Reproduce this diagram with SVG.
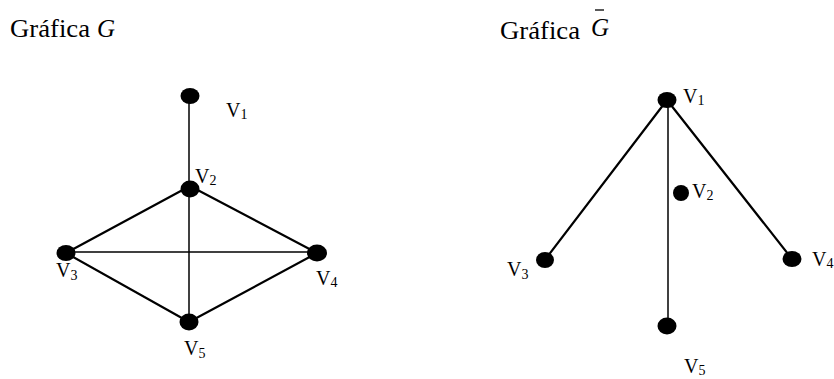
<svg xmlns="http://www.w3.org/2000/svg" width="834" height="379" viewBox="0 0 834 379">
<style>
.title{font-family:"Liberation Serif","Times New Roman",serif;font-size:25px;fill:#000}
.ital{font-style:italic}
.lbl{font-family:"Liberation Serif","Times New Roman",serif;font-size:20px;fill:#000}
.sub{font-size:14px}
.node{fill:#000}
.e{stroke:#000;stroke-width:2.2;fill:none;stroke-linecap:round}
.t{stroke:#000;stroke-width:1.5;fill:none}
</style>
<rect width="834" height="379" fill="#fff"/>
<g id="titles">
<text class="title" x="10" y="37"><tspan textLength="80" lengthAdjust="spacingAndGlyphs">Gráfica</tspan><tspan class="ital" x="97">G</tspan></text>
<text class="title" x="500" y="39"><tspan textLength="80" lengthAdjust="spacingAndGlyphs">Gráfica</tspan><tspan class="ital" x="591" y="36">G</tspan></text>
<line x1="595" y1="10" x2="604" y2="10" stroke="#000" stroke-width="1.3"/>
</g>
<g id="edges-G">
<line class="t" x1="189" y1="96" x2="189" y2="188"/>
<line class="t" x1="189" y1="188" x2="189" y2="322"/>
<line class="t" x1="66" y1="252" x2="317" y2="252"/>
<line class="e" x1="190" y1="186" x2="66" y2="253"/>
<line class="e" x1="190" y1="186" x2="317" y2="253"/>
<line class="e" x1="66" y1="253" x2="189" y2="322"/>
<line class="e" x1="317" y1="253" x2="189" y2="322"/>
</g>
<g id="edges-Gbar">
<line class="e" x1="667" y1="100" x2="541" y2="265"/>
<line class="e" x1="667" y1="100" x2="792" y2="259"/>
<line class="t" x1="668" y1="100" x2="668" y2="326"/>
</g>
<g id="G-v1"><ellipse class="node" cx="190" cy="96" rx="9.5" ry="8"/><text class="lbl" x="226" y="117">V<tspan class="sub" dy="2">1</tspan></text></g>
<g id="G-v2"><ellipse class="node" cx="190" cy="189" rx="9.5" ry="8.5"/><text class="lbl" x="195" y="183">V<tspan class="sub" dy="2">2</tspan></text></g>
<g id="G-v3"><ellipse class="node" cx="66" cy="253" rx="9.5" ry="8"/><text class="lbl" x="56" y="277">V<tspan class="sub" dy="3">3</tspan></text></g>
<g id="G-v4"><ellipse class="node" cx="317" cy="253" rx="10" ry="8.5"/><text class="lbl" x="316" y="285">V<tspan class="sub" dy="2">4</tspan></text></g>
<g id="G-v5"><ellipse class="node" cx="189" cy="322" rx="9.5" ry="8.5"/><text class="lbl" x="184" y="355">V<tspan class="sub" dy="3">5</tspan></text></g>
<g id="Gbar-v1"><ellipse class="node" cx="667" cy="100" rx="9.5" ry="8"/><text class="lbl" x="683" y="103">V<tspan class="sub" dy="2">1</tspan></text></g>
<g id="Gbar-v2"><ellipse class="node" cx="681" cy="193" rx="8" ry="8"/><text class="lbl" x="692" y="198">V<tspan class="sub" dy="2">2</tspan></text></g>
<g id="Gbar-v3"><ellipse class="node" cx="545" cy="260" rx="9" ry="8"/><text class="lbl" x="507" y="276">V<tspan class="sub" dy="3">3</tspan></text></g>
<g id="Gbar-v4"><ellipse class="node" cx="792" cy="259" rx="9.5" ry="8"/><text class="lbl" x="812" y="266">V<tspan class="sub" dy="2">4</tspan></text></g>
<g id="Gbar-v5"><ellipse class="node" cx="667" cy="326" rx="9.5" ry="8.5"/><text class="lbl" x="684" y="373">V<tspan class="sub" dy="2">5</tspan></text></g>
</svg>
